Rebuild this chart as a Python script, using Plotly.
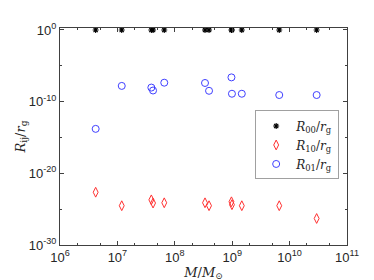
import plotly.graph_objects as go

mass = [4.18e6, 1.19e7, 3.9e7, 4.18e7, 6.55e7, 3.36e8, 3.95e8, 9.7e8, 9.9e8, 1.47e9, 6.6e9, 2.96e10]
r00 = [1.0] * 12
r10 = [10**-22.64, 10**-24.52, 10**-23.70, 10**-24.15, 10**-24.11, 10**-24.11, 10**-24.52,
       10**-23.97, 10**-24.38, 10**-24.52, 10**-24.52, 10**-26.30]
r01 = [10**-13.8, 10**-7.81, 10**-8.04, 10**-8.45, 10**-7.36, 10**-7.40, 10**-8.49,
       10**-6.62, 10**-8.90, 10**-8.90, 10**-9.08, 10**-9.08]

x_tickvals = [1e6, 1e7, 1e8, 1e9, 1e10, 1e11]
x_ticktext = ["10<sup>6</sup>", "10<sup>7</sup>", "10<sup>8</sup>", "10<sup>9</sup>",
              "10<sup>10</sup>", "10<sup>11</sup>"]
y_tickvals = [1e-30, 1e-20, 1e-10, 1]
y_ticktext = ["10<sup>-30</sup>", "10<sup>-20</sup>", "10<sup>-10</sup>", "10<sup>0</sup>"]

fig = go.Figure()
fig.add_trace(go.Scatter(x=mass, y=r00, mode="markers", name="<i>R</i><sub>00</sub>/<i>r</i><sub>g</sub>",
                         marker=dict(symbol="asterisk-open", size=5, color="black",
                                     line=dict(color="black", width=1.1))))
fig.add_trace(go.Scatter(x=mass, y=r10, mode="markers", name="<i>R</i><sub>10</sub>/<i>r</i><sub>g</sub>",
                         marker=dict(symbol="diamond-tall-open", size=7, color="#ff3030",
                                     line=dict(color="#ff3030", width=1))))
fig.add_trace(go.Scatter(x=mass, y=r01, mode="markers", name="<i>R</i><sub>01</sub>/<i>r</i><sub>g</sub>",
                         marker=dict(symbol="circle-open", size=7, color="#4040ff",
                                     line=dict(color="#4040ff", width=1))))

axis_common = dict(type="log", showline=True, linecolor="#404040", linewidth=1, mirror="ticks",
                   ticks="inside", ticklen=4, tickcolor="#404040", showgrid=False, zeroline=False,
                   tickfont=dict(family="Liberation Sans", size=13, color="#262626"))

fig.update_xaxes(**axis_common, range=[6, 11], tickmode="array",
                 tickvals=x_tickvals, ticktext=x_ticktext,
                 minor=dict(ticks="inside", ticklen=2, tickcolor="#404040", showgrid=False),
                 title=dict(text="<i>M</i>/<i>M</i><sub>⊙</sub>", standoff=2,
                            font=dict(family="DejaVu Serif", size=13, color="#262626")))
fig.update_yaxes(**axis_common, range=[-30, 0.27], tickmode="array",
                 tickvals=y_tickvals, ticktext=y_ticktext,
                 minor=dict(ticks="inside", ticklen=2, tickcolor="#404040",
                            tickvals=[1e-25, 1e-15, 1e-5], showgrid=False),
                 title=dict(text="<i>R</i><sub>ij</sub>/<i>r</i><sub>g</sub>", standoff=0,
                            font=dict(family="DejaVu Serif", size=13, color="#262626")))

fig.update_layout(
    width=374, height=280,
    margin=dict(l=49, r=35, t=20, b=39),
    paper_bgcolor="white", plot_bgcolor="white",
    showlegend=True,
    legend=dict(x=0.68, y=0.62, xanchor="left", yanchor="top",
                bordercolor="#a0a0a0", borderwidth=1, bgcolor="white",
                font=dict(family="DejaVu Serif", size=12, color="#262626"),
                itemwidth=30, tracegroupgap=0),
)

fig.write_html("out.html")
